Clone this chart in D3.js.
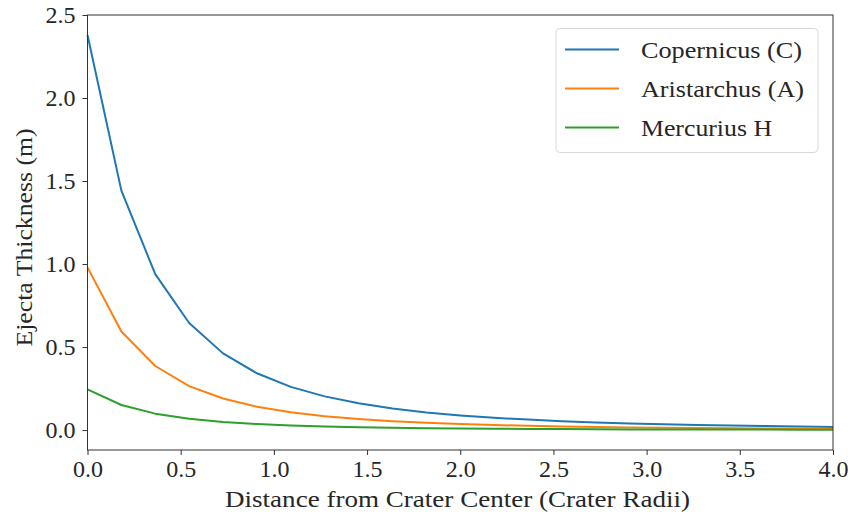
<!DOCTYPE html>
<html><head><meta charset="utf-8">
<script src="https://cdn.jsdelivr.net/npm/d3@7"></script>
<style>body{margin:0;background:#fff}svg text{font-family:"Liberation Serif","Times New Roman","DejaVu Serif",serif;fill:#262626}</style>
</head><body>
<svg id="c" width="848" height="517"></svg>
<script>
const distances = [0, 0.1818, 0.3636, 0.5455, 0.7273, 0.9091, 1.0909, 1.2727, 1.4545, 1.6364, 1.8182, 2.0, 2.1818, 2.3636, 2.5455, 2.7273, 2.9091, 3.0909, 3.2727, 3.4545, 3.6364, 3.8182, 4.0];
const copernicus = [2.38, 1.442, 0.939, 0.645, 0.462, 0.342, 0.260, 0.203, 0.161, 0.130, 0.106, 0.088, 0.074, 0.063, 0.053, 0.046, 0.040, 0.035, 0.031, 0.027, 0.024, 0.021, 0.019];
const aristarchus = [0.98, 0.594, 0.386, 0.265, 0.190, 0.141, 0.107, 0.083, 0.066, 0.053, 0.044, 0.036, 0.030, 0.026, 0.022, 0.019, 0.016, 0.014, 0.013, 0.011, 0.010, 0.009, 0.008];
const mercurius = [0.245, 0.151, 0.099, 0.068, 0.049, 0.036, 0.027, 0.021, 0.017, 0.014, 0.011, 0.009, 0.008, 0.007, 0.006, 0.005, 0.004, 0.004, 0.003, 0.003, 0.003, 0.002, 0.002];
const seriesNames = ["Copernicus (C)", "Aristarchus (A)", "Mercurius H"];
const seriesColors = ["#1f77b4", "#ff7f0e", "#2ca02c"];
const xTicks = [0, 0.5, 1.0, 1.5, 2.0, 2.5, 3.0, 3.5, 4.0];
const yTicks = [0, 0.5, 1.0, 1.5, 2.0, 2.5];

const svg = d3.select("#c");
const m = {l: 87.5, r: 833, t: 15, b: 450};
const x = d3.scaleLinear().domain([0, 4]).range([m.l, m.r]);
const y = d3.scaleLinear().domain([-0.12, 2.5]).range([m.b, m.t]);

const ff = '"Liberation Serif","Times New Roman","DejaVu Serif",serif';
const fs = 23;
const xa = svg.append("g").attr("transform", `translate(0,${m.b})`)
  .call(d3.axisBottom(x).tickValues(xTicks).tickFormat(d3.format(".1f")).tickSize(5).tickPadding(6));
const ya = svg.append("g").attr("transform", `translate(${m.l},0)`)
  .call(d3.axisLeft(y).tickValues(yTicks).tickFormat(d3.format(".1f")).tickSize(5).tickPadding(7));
[xa, ya].forEach(a => {
  a.select(".domain").remove();
  a.selectAll("line").attr("stroke", "#333").attr("stroke-width", 1);
  a.selectAll("text").attr("font-size", fs).style("font-family", ff).attr("fill", "#262626")
    .attr("textLength", 30).attr("lengthAdjust", "spacingAndGlyphs");
});

const all = [copernicus, aristarchus, mercurius];
const line = d3.line().x((d, i) => x(distances[i])).y(d => y(d));
const plot = svg.append("g");
all.forEach((s, k) => {
  plot.append("path").datum(s).attr("d", line).attr("fill", "none")
    .attr("stroke", seriesColors[k]).attr("stroke-width", 2).attr("stroke-linejoin", "round");
});

svg.append("rect").attr("x", m.l).attr("y", m.t).attr("width", m.r - m.l).attr("height", m.b - m.t)
  .attr("fill", "none").attr("stroke", "#333").attr("stroke-width", 1);

// legend
const lg = svg.append("g");
lg.append("rect").attr("x", 556).attr("y", 28.5).attr("width", 262).attr("height", 124).attr("rx", 4)
  .attr("fill", "#fff").attr("fill-opacity", 0.8).attr("stroke", "#d9d9d9").attr("stroke-width", 1);
const legendWidths = [161, 163, 131];
seriesNames.forEach((n, k) => {
  const yy = 49.5 + k * 39;
  lg.append("line").attr("x1", 565).attr("x2", 619).attr("y1", yy).attr("y2", yy)
    .attr("stroke", seriesColors[k]).attr("stroke-width", 2);
  lg.append("text").attr("x", 641).attr("y", yy + 8).attr("font-size", 24)
    .attr("textLength", legendWidths[k]).attr("lengthAdjust", "spacingAndGlyphs").text(n);
});

svg.append("text").attr("x", 457.5).attr("y", 507).attr("text-anchor", "middle")
  .attr("font-size", 24).attr("textLength", 465).attr("lengthAdjust", "spacingAndGlyphs")
  .text("Distance from Crater Center (Crater Radii)");
svg.append("text").attr("transform", `translate(32,${(m.t + m.b) / 2 + 5}) rotate(-90)`).attr("text-anchor", "middle")
  .attr("font-size", 24).attr("textLength", 218).attr("lengthAdjust", "spacingAndGlyphs")
  .text("Ejecta Thickness (m)");
</script>
</body></html>
